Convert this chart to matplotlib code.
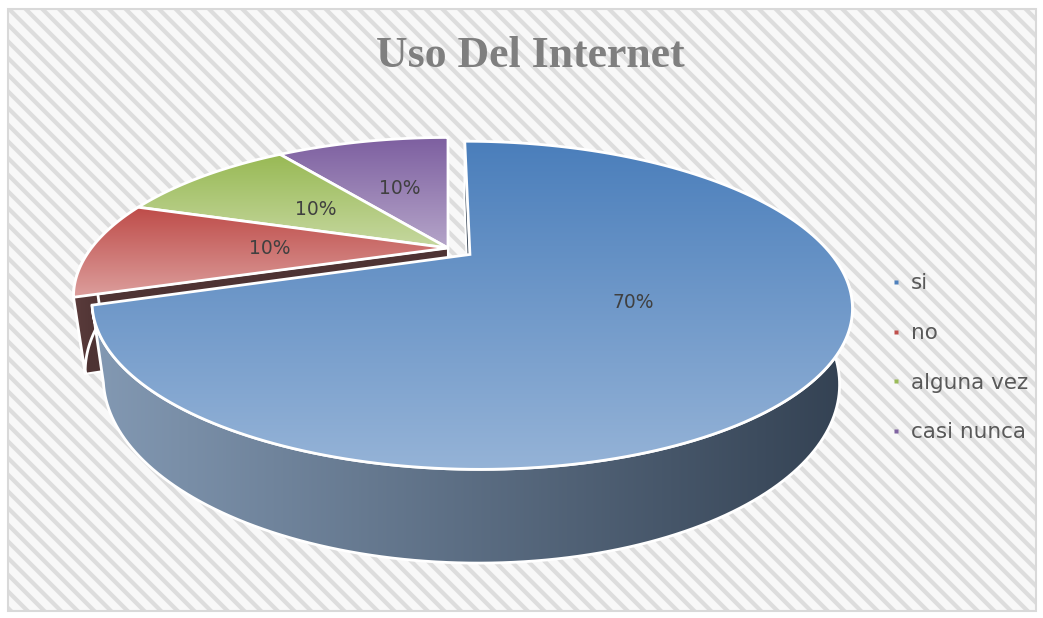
import numpy as np
import matplotlib
matplotlib.use("Agg")
import matplotlib.pyplot as plt
from matplotlib.patches import Polygon, Rectangle
from matplotlib.lines import Line2D
from matplotlib.colors import LinearSegmentedColormap

# data
categories = ["si", "no", "alguna vez", "casi nunca"]
values = [70, 10, 10, 10]
labels = ["70%", "10%", "10%", "10%"]
explode = [0.075, 0, 0, 0]

# colours (top gradient start/end, side colour start/end)
top_colors = [("#4a7ebb", "#95b3d7"), ("#be4b48", "#dc9e9c"),
              ("#98b954", "#c6d8a0"), ("#7d5fa0", "#b5a5c9")]
side_colors = [("#8399b3", "#334152"), ("#5a3b3b", "#4e3333"),
               ("#6f8a3c", "#5c7332"), ("#5c4578", "#4c3a63")]
legend_colors = ["#4f81bd", "#c0504d", "#9bbb59", "#8064a2"]

# fake 3d camera
CX, CY = 448, 248
F, D = 1086, 3.0
FX = 0.985
ALPHA = np.radians(23.5)
H = 0.22
CAM = np.array([0.0, -D * np.cos(ALPHA)])

plt.rcParams["hatch.linewidth"] = 3.0


def project(X, Y, Z):
    v = Y * np.sin(ALPHA) + Z * np.cos(ALPHA)
    d = D + Y * np.cos(ALPHA) - Z * np.sin(ALPHA)
    return CX + FX * F * X / d, CY - F * v / d


def grad_poly(ax, xs, ys, c1, c2, vertical=True, z=1, lw=2.0):
    xy = np.column_stack([xs, ys])
    clip = Polygon(xy, closed=True, facecolor="none", edgecolor="none", zorder=z)
    ax.add_patch(clip)
    cmap = LinearSegmentedColormap.from_list("g", [c1, c2])
    g = np.linspace(0, 1, 256)
    img = g[:, None] if vertical else g[None, :]
    im = ax.imshow(img, cmap=cmap, aspect="auto", interpolation="bilinear",
                   extent=(xs.min(), xs.max(), ys.max(), ys.min()), zorder=z)
    im.set_clip_path(clip)
    ax.add_patch(Polygon(xy, closed=True, facecolor="none", edgecolor="white",
                         lw=lw, joinstyle="miter", zorder=z + 0.01))


fig = plt.figure(figsize=(10.43, 6.18), dpi=100)
ax = fig.add_axes([0, 0, 1, 1])
ax.set_xlim(0, 1043)
ax.set_ylim(618, 0)
ax.axis("off")

# background
ax.add_patch(Rectangle((8, 9), 1028, 602, facecolor="#f8f8f8", edgecolor="#dddddd",
                       hatch="\\\\", lw=0, zorder=0))
ax.add_patch(Rectangle((8, 9), 1028, 602, facecolor="none", edgecolor="#d9d9d9",
                       lw=1.5, zorder=0.5))

# slice angles, clockwise from 12 o'clock
sweeps = 360 * np.array(values) / np.sum(values)
ends = 90 - np.concatenate([[0], np.cumsum(sweeps)[:-1]])
starts = ends - sweeps
starts = np.where(starts < 0, starts + 360, starts)
ends = np.where(ends <= starts, ends + 360, ends)

slices = []
for i in range(len(values)):
    a0, a1 = np.radians(starts[i]), np.radians(ends[i])
    mid = (a0 + a1) / 2
    ox, oy = explode[i] * np.cos(mid), explode[i] * np.sin(mid)
    t = np.linspace(a0, a1, 200)
    near = np.min(oy + np.sin(t))
    slices.append((near, i, a0, a1, mid, ox, oy, t))

# back to front
slices.sort(key=lambda s: -s[0])

z = 2
for near, i, a0, a1, mid, ox, oy, t in slices:
    # radial faces
    for ang, sgn in ((a0, 1), (a1, -1)):
        n = sgn * np.array([np.sin(ang), -np.cos(ang)])
        if np.dot(n, CAM - np.array([ox, oy])) > 0:
            X = np.array([ox, ox + np.cos(ang), ox + np.cos(ang), ox])
            Y = np.array([oy, oy + np.sin(ang), oy + np.sin(ang), oy])
            Zs = np.array([0, 0, -H, -H])
            xs, ys = project(X, Y, Zs)
            grad_poly(ax, xs, ys, side_colors[i][1], side_colors[i][1], z=z, lw=1.5)
            z += 0.1
    # outer wall, front half only
    tw = t[np.sin(t) <= 0]
    if len(tw) > 1:
        X = ox + np.cos(tw)
        Y = oy + np.sin(tw)
        xt, yt = project(X, Y, np.zeros_like(X))
        xb, yb = project(X, Y, np.full_like(X, -H))
        xs = np.concatenate([xt, xb[::-1]])
        ys = np.concatenate([yt, yb[::-1]])
        grad_poly(ax, xs, ys, side_colors[i][0], side_colors[i][1], vertical=False, z=z)
        z += 0.1
    # top face
    X = np.concatenate([[ox], ox + np.cos(t)])
    Y = np.concatenate([[oy], oy + np.sin(t)])
    xs, ys = project(X, Y, np.zeros_like(X))
    grad_poly(ax, xs, ys, top_colors[i][0], top_colors[i][1], z=z)
    z += 0.1

# percentage labels
for near, i, a0, a1, mid, ox, oy, t in slices:
    lx, ly = project(ox + 0.5 * np.cos(mid), oy + 0.5 * np.sin(mid), 0.0)
    ax.text(lx, ly, labels[i], ha="center", va="center", fontsize=13.5,
            color="#404040", family="DejaVu Sans", zorder=20)

ax.text(530, 67, "Uso Del Internet", ha="center", va="baseline",
        fontsize=31.5, fontweight="bold", family="Liberation Serif",
        color="#7f7f7f", zorder=20)

handles = [Line2D([], [], ls="", marker="s", markersize=3.5, color=c,
                  markeredgecolor="none") for c in legend_colors]
leg = ax.legend(handles, categories, loc="upper left",
                bbox_to_anchor=(870 / 1043, 1 - 254 / 618), frameon=False,
                prop={"family": "DejaVu Sans", "size": 15.5}, labelcolor="#595959",
                handlelength=0.6, handletextpad=0.4, labelspacing=1.38)
leg.set_zorder(20)

fig.savefig("out.png", dpi=100)
